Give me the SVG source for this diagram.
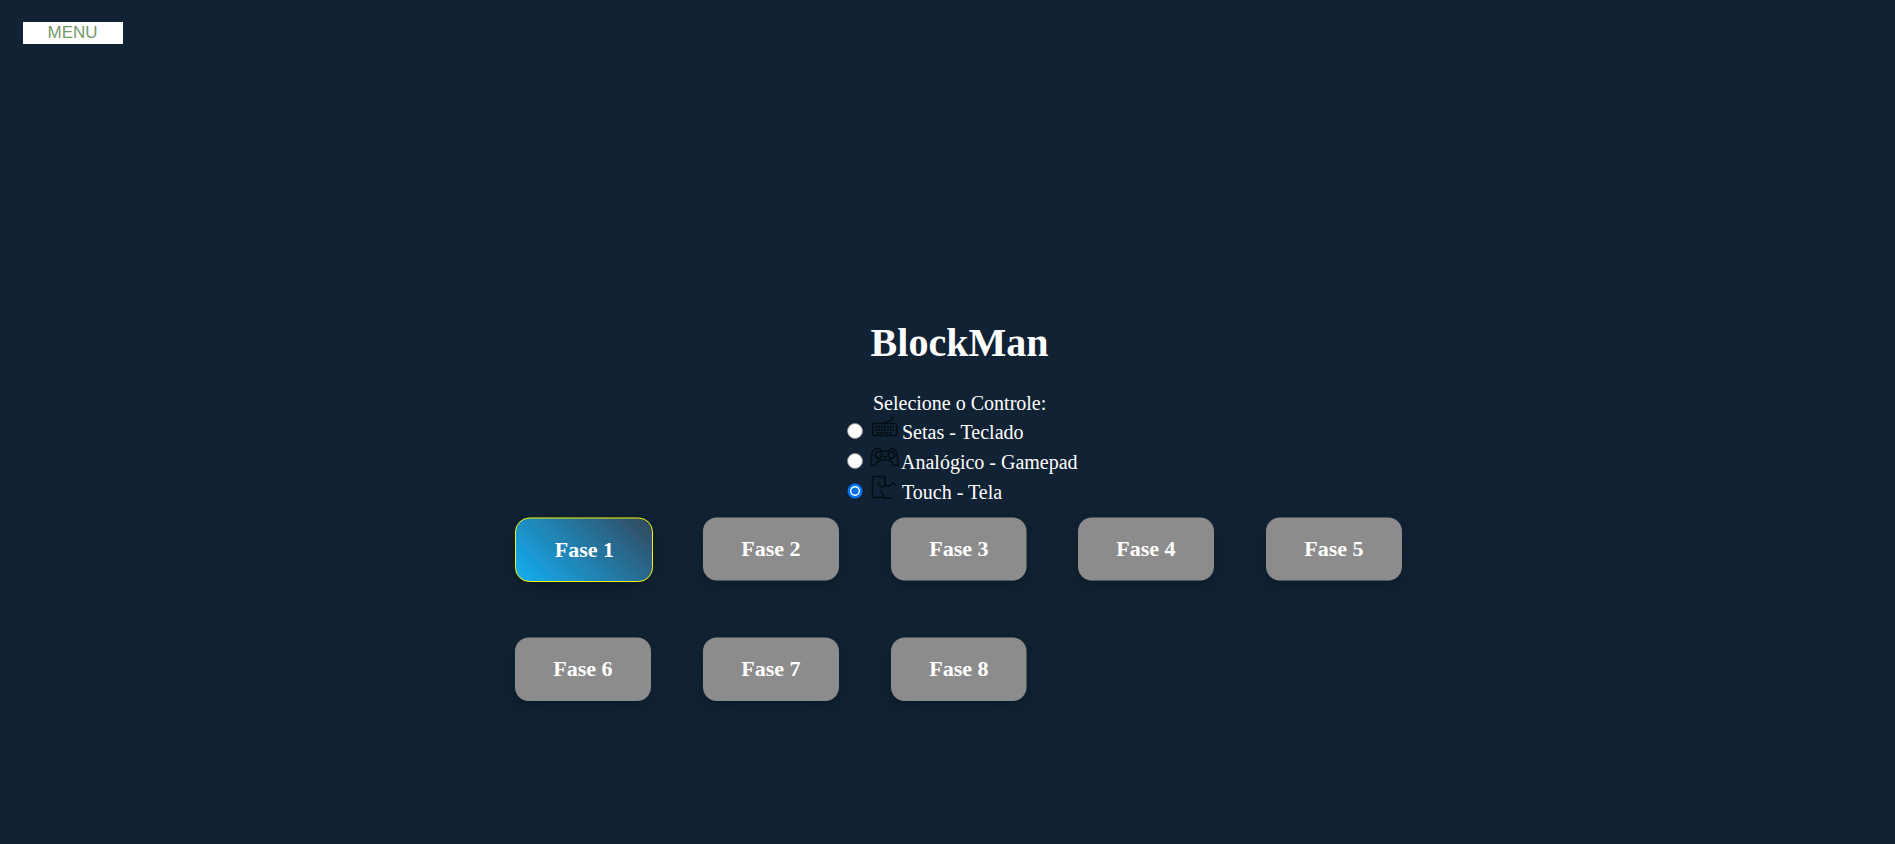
<svg xmlns="http://www.w3.org/2000/svg" width="1895" height="844" viewBox="0 0 1895 844">
<style>
.s{font-family:"Liberation Serif","Times New Roman",serif;fill:#fff}
.lbl{font-size:20px}
.btn{font-size:22px;font-weight:700;text-anchor:middle}
.g{fill:#8c8c8c}
.ic{fill:none;stroke:#050d14;stroke-width:1.5}
.keys{fill:none;stroke:#050d14;stroke-width:2.2;stroke-dasharray:2 1}
.radio{fill:#fff;stroke:#8a8a8a;stroke-width:1}
</style>
<defs>
<linearGradient id="fase1" gradientUnits="userSpaceOnUse" x1="534" y1="600.2" x2="634.5" y2="499.8"><stop offset="0" stop-color="#13b0f5"/><stop offset="1" stop-color="#33475b"/></linearGradient>
<filter id="sh" x="-30%" y="-30%" width="160%" height="180%"><feDropShadow dx="0" dy="6" stdDeviation="9" flood-color="#000" flood-opacity=".24"/></filter>
</defs>
<rect width="1895" height="844" fill="#102233"/>
<g id="menu"><rect x="23" y="22" width="100" height="22" fill="#fff"/><text x="72.500" y="38" font-family="Liberation Sans,Arial,sans-serif" font-size="17" fill="#749a6c" text-anchor="middle">MENU</text></g>
<g id="title"><text class="s" x="959.500" y="356" font-size="40" font-weight="700" text-anchor="middle">BlockMan</text></g>
<g id="controls">
<text class="s lbl" x="873" y="410">Selecione o Controle:</text>
<g id="opt-setas"><circle class="radio" cx="855" cy="431" r="7.500"/>
<g class="ic"><rect x="872.700" y="423.500" width="24" height="12" rx="1.500"/><path d="M885 423.500c0-3 7-2 7-5 0-1 1-2 1-3"/></g>
<path class="keys" d="M875 427h19M875 430h19M877 433h15"/>
<text class="s lbl" x="902" y="439.300">Setas - Teclado</text></g>
<g id="opt-analogico"><circle class="radio" cx="855" cy="461" r="7.500"/>
<g class="ic"><path d="M877 449h3l1 2h8l1-2h3c2 0 3 1 4 4l1 10c0 3-3 4-5 1l-3-4h-11l-3 4c-2 3-5 2-5-1l1-10c1-3 2-4 4-4z"/><circle cx="878.500" cy="455" r="3.200"/><circle cx="891.500" cy="455" r="3.200"/><path d="M883 457h4"/></g>
<text class="s lbl" x="901" y="469.300">Analógico - Gamepad</text></g>
<g id="opt-touch"><circle cx="855" cy="491" r="7.500" fill="#0075ff"/><circle cx="855" cy="491" r="5" fill="#fff"/><circle cx="855" cy="491" r="3.600" fill="#0a6fe8"/>
<g class="ic"><path d="M885 487v-9a1.500 1.500 0 0 0-1.500-1.500h-9.500a1.500 1.500 0 0 0-1.500 1.500v18a1.500 1.500 0 0 0 1.500 1.500h9"/><path d="M877 482l5 6 4-3 3 1 4-3 4 3M880 490l3 4 1 4h8"/></g>
<text class="s lbl" x="902" y="499.300">Touch - Tela</text></g>
</g>
<g id="fase-1"><rect x="515.500" y="518" width="137" height="63.500" rx="14" fill="url(#fase1)" stroke="#f5f500" filter="url(#sh)"/><text class="s btn" x="584.500" y="557">Fase 1</text></g>
<g id="fase-2"><rect x="703" y="517.500" width="136" height="63" rx="14" class="g" filter="url(#sh)"/><text class="s btn" x="771" y="556">Fase 2</text></g>
<g id="fase-3"><rect x="891" y="517.500" width="135.500" height="63" rx="14" class="g" filter="url(#sh)"/><text class="s btn" x="959" y="556">Fase 3</text></g>
<g id="fase-4"><rect x="1078" y="517.500" width="136" height="63" rx="14" class="g" filter="url(#sh)"/><text class="s btn" x="1146" y="556">Fase 4</text></g>
<g id="fase-5"><rect x="1266" y="517.500" width="136" height="63" rx="14" class="g" filter="url(#sh)"/><text class="s btn" x="1334" y="556">Fase 5</text></g>
<g id="fase-6"><rect x="515" y="637.500" width="136" height="63.500" rx="14" class="g" filter="url(#sh)"/><text class="s btn" x="583" y="676">Fase 6</text></g>
<g id="fase-7"><rect x="703" y="637.500" width="136" height="63.500" rx="14" class="g" filter="url(#sh)"/><text class="s btn" x="771" y="676">Fase 7</text></g>
<g id="fase-8"><rect x="891" y="637.500" width="135.500" height="63.500" rx="14" class="g" filter="url(#sh)"/><text class="s btn" x="959" y="676">Fase 8</text></g>
<g id="connectors"/>
</svg>
